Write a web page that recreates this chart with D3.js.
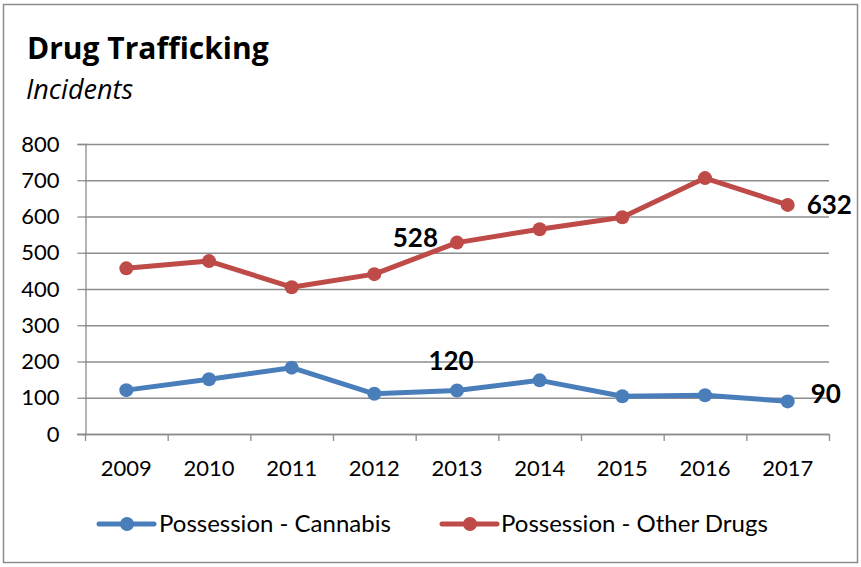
<!DOCTYPE html>
<html><head><meta charset="utf-8">
<script src="https://cdn.jsdelivr.net/npm/d3@7"></script>
<style>body{margin:0;background:#fff}svg{display:block;font-family:Lato,"Open Sans",sans-serif}</style>
</head><body><svg id="c" width="861" height="567"></svg>
<script>
const years = ["2009","2010","2011","2012","2013","2014","2015","2016","2017"];
const cannabis = [121, 151, 183, 111, 120, 148, 104, 107, 90];
const otherDrugs = [457, 477, 405, 441, 528, 565, 598, 706, 632];
const yTicks = [0,100,200,300,400,500,600,700,800];
const seriesNames = ["Possession - Cannabis","Possession - Other Drugs"];
const colors = ["#4A7EBB","#BE4B48"];

const svg = d3.select("#c");
svg.append("rect").attr("x",3.5).attr("y",4.5).attr("width",854).attr("height",558)
  .attr("fill","#fff").attr("stroke","#8c8c8c").attr("stroke-width",1.5);

svg.append("text").attr("x",27).attr("y",59).attr("font-size",30).attr("font-weight","bold")
  .attr("font-family","Open Sans").text("Drug Trafficking");
svg.append("text").attr("x",26).attr("y",99).attr("font-size",27).attr("font-style","italic")
  .attr("font-family","Open Sans").text("Incidents");

const L=85, R=829, T=144, B=434;
const x = d3.scaleBand().domain(years).range([L,R]);
const y = d3.scaleLinear().domain([0,800]).range([B,T]);

// gridlines
svg.append("g").selectAll("line").data(yTicks).join("line")
  .attr("x1",L).attr("x2",R).attr("y1",d=>y(d)+0.5).attr("y2",d=>y(d)+0.5)
  .attr("stroke","#8c8c8c").attr("stroke-width",1.3);

const ya = svg.append("g").attr("transform",`translate(${L+0.5},0)`)
  .call(d3.axisLeft(y).tickValues(yTicks).tickSize(8).tickPadding(18));
ya.select(".domain").attr("stroke","#8c8c8c").attr("stroke-width",1.3);
ya.selectAll(".tick line").attr("stroke","#8c8c8c").attr("stroke-width",1.3);
ya.selectAll("text").attr("font-size",22).attr("font-family","Lato").attr("fill","#000");

const xa = svg.append("g").attr("transform",`translate(0,${B+0.5})`)
  .call(d3.axisBottom(x).tickSize(0).tickPadding(26));
xa.select(".domain").attr("stroke","#8c8c8c").attr("stroke-width",1.3).attr("d",`M${L-8},0H${R}`);
xa.selectAll("text").attr("font-size",22).attr("font-family","Lato").attr("fill","#000");
// category boundary ticks
svg.append("g").selectAll("line").data(years.concat(["end"])).join("line")
  .attr("x1",(d,i)=>L+i*x.step()+0.5).attr("x2",(d,i)=>L+i*x.step()+0.5)
  .attr("y1",B).attr("y2",B+7).attr("stroke","#8c8c8c").attr("stroke-width",1.3);

const cx = d => x(d)+x.bandwidth()/2;
const line = d3.line().x((d,i)=>cx(years[i])).y(d=>y(d));
[cannabis, otherDrugs].forEach((s,k)=>{
  svg.append("path").datum(s).attr("d",line).attr("fill","none")
    .attr("stroke",colors[k]).attr("stroke-width",5).attr("stroke-linejoin","round");
  svg.append("g").selectAll("circle").data(s).join("circle")
    .attr("cx",(d,i)=>cx(years[i])).attr("cy",d=>y(d)).attr("r",7).attr("fill",colors[k]);
});

// data labels
const lab = (txt,xx,yy,anchor)=>svg.append("text").attr("x",xx).attr("y",yy)
  .attr("font-size",26).attr("font-weight","bold").attr("text-anchor",anchor).text(txt);
lab(otherDrugs[4], cx("2013")-19, y(otherDrugs[4])+4, "end");
lab(cannabis[4], cx("2013")-6, y(cannabis[4])-21, "middle");
lab(otherDrugs[8], cx("2017")+19, y(otherDrugs[8])+9, "start");
lab(cannabis[8], cx("2017")+23, y(cannabis[8])+2, "start");

// legend
const leg = [{x:97,tx:159},{x:440,tx:501}];
leg.forEach((p,k)=>{
  const g = svg.append("g");
  g.append("line").attr("x1",p.x+2).attr("x2",p.x+57).attr("y1",524).attr("y2",524)
    .attr("stroke",colors[k]).attr("stroke-width",5).attr("stroke-linecap","round");
  g.append("circle").attr("cx",p.x+30).attr("cy",524).attr("r",7).attr("fill",colors[k]);
  g.append("text").attr("x",p.tx).attr("y",532).attr("font-size",24).text(seriesNames[k]);
});
</script></body></html>
